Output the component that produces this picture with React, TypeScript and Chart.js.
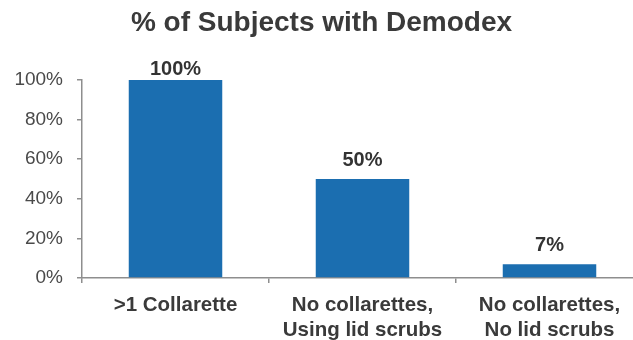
import React, { useEffect, useRef } from "react";
import { Chart, registerables } from "chart.js";

Chart.register(...registerables);

const TITLE = "% of Subjects with Demodex";
const categories: string[][] = [
  [">1 Collarette"],
  ["No collarettes,", "Using lid scrubs"],
  ["No collarettes,", "No lid scrubs"],
];
const demodexPercent: number[] = [100, 50, 7];
const yTicks: number[] = [0, 20, 40, 60, 80, 100];

const BAR_COLOR = "#1b6eb0";
const AXIS_COLOR = "#8e8e8e";
const FONT = "'Liberation Sans', Arial, Helvetica, sans-serif";

// Writes each bar's value above it, kept just under the top edge of the plot for full bars.
const valueLabels = {
  id: "valueLabels",
  afterDatasetsDraw(chart: any) {
    const ctx = chart.ctx;
    const meta = chart.getDatasetMeta(0);
    const top = chart.chartArea.top;
    ctx.save();
    ctx.font = `bold 20px ${FONT}`;
    ctx.fillStyle = "#333333";
    ctx.textAlign = "center";
    ctx.textBaseline = "alphabetic";
    meta.data.forEach((bar: any, i: number) => {
      const y = Math.max(bar.y - 13, top - 5);
      ctx.fillText(`${demodexPercent[i]}%`, bar.x, y);
    });
    ctx.restore();
  },
};

export default function App() {
  const canvasRef = useRef<HTMLCanvasElement | null>(null);

  useEffect(() => {
    if (!canvasRef.current) return;
    const chart = new Chart(canvasRef.current, {
      type: "bar",
      data: {
        labels: categories,
        datasets: [
          {
            data: demodexPercent,
            backgroundColor: BAR_COLOR,
            borderWidth: 0,
            barPercentage: 0.5,
            categoryPercentage: 1,
          },
        ],
      },
      options: {
        responsive: false,
        animation: false,
        layout: { padding: { left: 0, right: 7, top: 0, bottom: 0 } },
        plugins: {
          legend: { display: false },
          tooltip: { enabled: false },
          title: {
            display: true,
            text: TITLE,
            color: "#3a3a3a",
            font: { family: FONT, size: 28, weight: "bold", lineHeight: 1.2 },
            padding: { top: 6, bottom: 40.4 },
          },
        },
        scales: {
          x: {
            grid: {
              display: true,
              drawOnChartArea: false,
              drawTicks: true,
              tickLength: 5,
              color: AXIS_COLOR,
              lineWidth: 1.5,
            },
            border: { display: true, color: AXIS_COLOR, width: 1.5 },
            ticks: {
              color: "#3a3a3a",
              font: { family: FONT, size: 20.5, weight: "bold", lineHeight: 1.22 },
              padding: 10,
              maxRotation: 0,
              autoSkip: false,
            },
            afterFit(scale: any) {
              scale.height = 62;
            },
          },
          y: {
            min: 0,
            max: 100,
            afterBuildTicks(scale: any) {
              scale.ticks = yTicks.map((v) => ({ value: v }));
            },
            grid: {
              display: true,
              drawOnChartArea: false,
              drawTicks: true,
              tickLength: 5,
              color: AXIS_COLOR,
              lineWidth: 1.5,
            },
            border: { display: true, color: AXIS_COLOR, width: 1.5 },
            ticks: {
              color: "#4a4a4a",
              font: { family: FONT, size: 19 },
              padding: 14,
              callback: (v: any) => `${v}%`,
            },
            afterFit(scale: any) {
              scale.width = 82;
            },
          },
        },
      },
      plugins: [valueLabels],
    });
    return () => chart.destroy();
  }, []);

  return (
    <div
      style={{
        position: "fixed",
        left: 0,
        top: 0,
        width: 633,
        height: 340,
        overflow: "hidden",
        background: "#ffffff",
      }}
    >
      <canvas ref={canvasRef} width={650} height={340} style={{ display: "block" }} />
    </div>
  );
}
